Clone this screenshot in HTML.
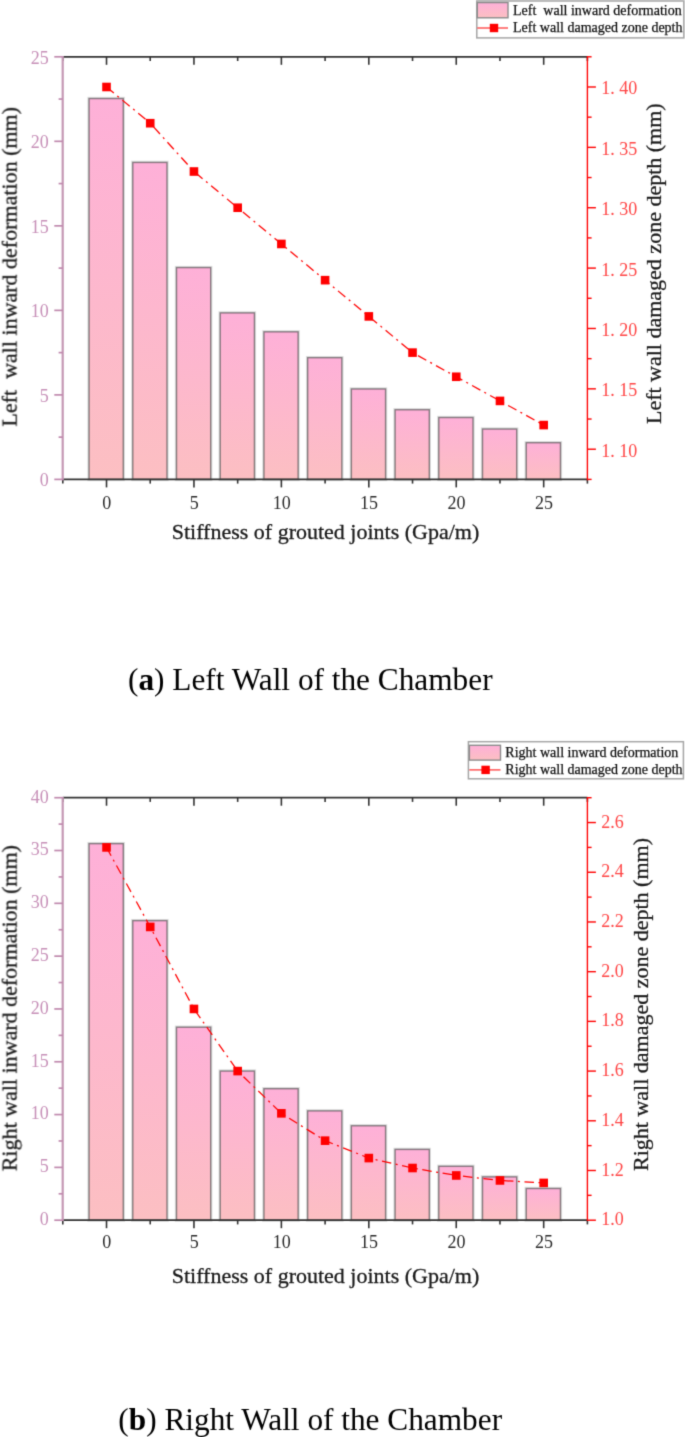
<!DOCTYPE html>
<html><head><meta charset="utf-8"><title>Chart</title>
<style>
html,body{margin:0;padding:0;background:#fff;}
body{width:685px;height:1437px;overflow:hidden;}
svg{display:block;font-family:'Liberation Serif', serif;}
</style></head><body>
<svg width="685" height="1437" viewBox="0 0 685 1437">
<defs>
<linearGradient id="bg" x1="0" y1="0" x2="0" y2="1">
<stop offset="0" stop-color="#feb0d8"/>
<stop offset="1" stop-color="#fcbfc2"/>
</linearGradient>
<filter id="soft" filterUnits="userSpaceOnUse" x="0" y="0" width="685" height="1437" color-interpolation-filters="sRGB">
<feConvolveMatrix order="3" kernelMatrix="0.01917 0.10012 0.01917 0.10012 0.52283 0.10012 0.01917 0.10012 0.01917" divisor="1" edgeMode="duplicate"/>
</filter>
</defs>
<g filter="url(#soft)">
<rect width="685" height="1437" fill="#fff"/>
<rect x="89.07" y="98.55" width="34.19" height="380.85" fill="none" stroke="rgba(0,0,0,0.13)" stroke-width="3.4"/>
<rect x="89.07" y="98.55" width="34.19" height="380.85" fill="url(#bg)" stroke="rgba(70,70,70,0.6)" stroke-width="1.4"/>
<rect x="132.79" y="162.45" width="34.19" height="316.95" fill="none" stroke="rgba(0,0,0,0.13)" stroke-width="3.4"/>
<rect x="132.79" y="162.45" width="34.19" height="316.95" fill="url(#bg)" stroke="rgba(70,70,70,0.6)" stroke-width="1.4"/>
<rect x="176.51" y="267.59" width="34.19" height="211.81" fill="none" stroke="rgba(0,0,0,0.13)" stroke-width="3.4"/>
<rect x="176.51" y="267.59" width="34.19" height="211.81" fill="url(#bg)" stroke="rgba(70,70,70,0.6)" stroke-width="1.4"/>
<rect x="220.22" y="312.90" width="34.19" height="166.50" fill="none" stroke="rgba(0,0,0,0.13)" stroke-width="3.4"/>
<rect x="220.22" y="312.90" width="34.19" height="166.50" fill="url(#bg)" stroke="rgba(70,70,70,0.6)" stroke-width="1.4"/>
<rect x="263.94" y="331.83" width="34.19" height="147.57" fill="none" stroke="rgba(0,0,0,0.13)" stroke-width="3.4"/>
<rect x="263.94" y="331.83" width="34.19" height="147.57" fill="url(#bg)" stroke="rgba(70,70,70,0.6)" stroke-width="1.4"/>
<rect x="307.66" y="357.69" width="34.19" height="121.71" fill="none" stroke="rgba(0,0,0,0.13)" stroke-width="3.4"/>
<rect x="307.66" y="357.69" width="34.19" height="121.71" fill="url(#bg)" stroke="rgba(70,70,70,0.6)" stroke-width="1.4"/>
<rect x="351.37" y="388.96" width="34.19" height="90.44" fill="none" stroke="rgba(0,0,0,0.13)" stroke-width="3.4"/>
<rect x="351.37" y="388.96" width="34.19" height="90.44" fill="url(#bg)" stroke="rgba(70,70,70,0.6)" stroke-width="1.4"/>
<rect x="395.09" y="409.76" width="34.19" height="69.64" fill="none" stroke="rgba(0,0,0,0.13)" stroke-width="3.4"/>
<rect x="395.09" y="409.76" width="34.19" height="69.64" fill="url(#bg)" stroke="rgba(70,70,70,0.6)" stroke-width="1.4"/>
<rect x="438.81" y="417.53" width="34.19" height="61.87" fill="none" stroke="rgba(0,0,0,0.13)" stroke-width="3.4"/>
<rect x="438.81" y="417.53" width="34.19" height="61.87" fill="url(#bg)" stroke="rgba(70,70,70,0.6)" stroke-width="1.4"/>
<rect x="482.52" y="429.03" width="34.19" height="50.37" fill="none" stroke="rgba(0,0,0,0.13)" stroke-width="3.4"/>
<rect x="482.52" y="429.03" width="34.19" height="50.37" fill="url(#bg)" stroke="rgba(70,70,70,0.6)" stroke-width="1.4"/>
<rect x="526.24" y="442.72" width="34.19" height="36.68" fill="none" stroke="rgba(0,0,0,0.13)" stroke-width="3.4"/>
<rect x="526.24" y="442.72" width="34.19" height="36.68" fill="url(#bg)" stroke="rgba(70,70,70,0.6)" stroke-width="1.4"/>
<polyline points="106.52,86.99 150.23,123.21 193.95,171.51 237.67,207.73 281.38,243.95 325.10,280.17 368.82,316.40 412.53,352.62 456.25,376.77 499.97,400.92 543.68,425.07" fill="none" stroke="#ff0000" stroke-width="1.25" stroke-dasharray="9.5 4.5 2 4.6"/>
<rect x="102.22" y="82.69" width="8.6" height="8.6" fill="#ff0000"/>
<rect x="145.93" y="118.91" width="8.6" height="8.6" fill="#ff0000"/>
<rect x="189.65" y="167.21" width="8.6" height="8.6" fill="#ff0000"/>
<rect x="233.37" y="203.43" width="8.6" height="8.6" fill="#ff0000"/>
<rect x="277.08" y="239.65" width="8.6" height="8.6" fill="#ff0000"/>
<rect x="320.80" y="275.87" width="8.6" height="8.6" fill="#ff0000"/>
<rect x="364.52" y="312.10" width="8.6" height="8.6" fill="#ff0000"/>
<rect x="408.23" y="348.32" width="8.6" height="8.6" fill="#ff0000"/>
<rect x="451.95" y="372.47" width="8.6" height="8.6" fill="#ff0000"/>
<rect x="495.67" y="396.62" width="8.6" height="8.6" fill="#ff0000"/>
<rect x="539.38" y="420.77" width="8.6" height="8.6" fill="#ff0000"/>
<line x1="62.80" y1="479.40" x2="587.40" y2="479.40" stroke="#333333" stroke-width="1.7"/>
<line x1="62.80" y1="56.80" x2="587.40" y2="56.80" stroke="#333333" stroke-width="1.7"/>
<line x1="62.80" y1="479.40" x2="62.80" y2="483.60" stroke="#333333" stroke-width="1.6"/>
<line x1="62.80" y1="56.80" x2="62.80" y2="61.00" stroke="#333333" stroke-width="1.6"/>
<line x1="106.52" y1="479.40" x2="106.52" y2="487.40" stroke="#333333" stroke-width="1.6"/>
<line x1="106.52" y1="56.80" x2="106.52" y2="64.80" stroke="#333333" stroke-width="1.6"/>
<text x="106.82" y="509.20" font-size="18" text-anchor="middle" fill="#2a2a2a">0</text>
<line x1="150.23" y1="479.40" x2="150.23" y2="483.60" stroke="#333333" stroke-width="1.6"/>
<line x1="150.23" y1="56.80" x2="150.23" y2="61.00" stroke="#333333" stroke-width="1.6"/>
<line x1="193.95" y1="479.40" x2="193.95" y2="487.40" stroke="#333333" stroke-width="1.6"/>
<line x1="193.95" y1="56.80" x2="193.95" y2="64.80" stroke="#333333" stroke-width="1.6"/>
<text x="194.25" y="509.20" font-size="18" text-anchor="middle" fill="#2a2a2a">5</text>
<line x1="237.67" y1="479.40" x2="237.67" y2="483.60" stroke="#333333" stroke-width="1.6"/>
<line x1="237.67" y1="56.80" x2="237.67" y2="61.00" stroke="#333333" stroke-width="1.6"/>
<line x1="281.38" y1="479.40" x2="281.38" y2="487.40" stroke="#333333" stroke-width="1.6"/>
<line x1="281.38" y1="56.80" x2="281.38" y2="64.80" stroke="#333333" stroke-width="1.6"/>
<text x="281.68" y="509.20" font-size="18" text-anchor="middle" fill="#2a2a2a">10</text>
<line x1="325.10" y1="479.40" x2="325.10" y2="483.60" stroke="#333333" stroke-width="1.6"/>
<line x1="325.10" y1="56.80" x2="325.10" y2="61.00" stroke="#333333" stroke-width="1.6"/>
<line x1="368.82" y1="479.40" x2="368.82" y2="487.40" stroke="#333333" stroke-width="1.6"/>
<line x1="368.82" y1="56.80" x2="368.82" y2="64.80" stroke="#333333" stroke-width="1.6"/>
<text x="369.12" y="509.20" font-size="18" text-anchor="middle" fill="#2a2a2a">15</text>
<line x1="412.53" y1="479.40" x2="412.53" y2="483.60" stroke="#333333" stroke-width="1.6"/>
<line x1="412.53" y1="56.80" x2="412.53" y2="61.00" stroke="#333333" stroke-width="1.6"/>
<line x1="456.25" y1="479.40" x2="456.25" y2="487.40" stroke="#333333" stroke-width="1.6"/>
<line x1="456.25" y1="56.80" x2="456.25" y2="64.80" stroke="#333333" stroke-width="1.6"/>
<text x="456.55" y="509.20" font-size="18" text-anchor="middle" fill="#2a2a2a">20</text>
<line x1="499.97" y1="479.40" x2="499.97" y2="483.60" stroke="#333333" stroke-width="1.6"/>
<line x1="499.97" y1="56.80" x2="499.97" y2="61.00" stroke="#333333" stroke-width="1.6"/>
<line x1="543.68" y1="479.40" x2="543.68" y2="487.40" stroke="#333333" stroke-width="1.6"/>
<line x1="543.68" y1="56.80" x2="543.68" y2="64.80" stroke="#333333" stroke-width="1.6"/>
<text x="543.98" y="509.20" font-size="18" text-anchor="middle" fill="#2a2a2a">25</text>
<line x1="587.40" y1="479.40" x2="587.40" y2="483.60" stroke="#333333" stroke-width="1.6"/>
<line x1="587.40" y1="56.80" x2="587.40" y2="61.00" stroke="#333333" stroke-width="1.6"/>
<line x1="62.70" y1="56.00" x2="62.70" y2="480.20" stroke="#c598b4" stroke-width="2.2"/>
<line x1="54.30" y1="479.40" x2="62.80" y2="479.40" stroke="#c08aae" stroke-width="1.7"/>
<text x="48.70" y="486.10" font-size="18" text-anchor="end" fill="#c790b8">0</text>
<line x1="58.60" y1="437.14" x2="62.80" y2="437.14" stroke="#c08aae" stroke-width="1.7"/>
<line x1="54.30" y1="394.88" x2="62.80" y2="394.88" stroke="#c08aae" stroke-width="1.7"/>
<text x="48.70" y="401.58" font-size="18" text-anchor="end" fill="#c790b8">5</text>
<line x1="58.60" y1="352.62" x2="62.80" y2="352.62" stroke="#c08aae" stroke-width="1.7"/>
<line x1="54.30" y1="310.36" x2="62.80" y2="310.36" stroke="#c08aae" stroke-width="1.7"/>
<text x="48.70" y="317.06" font-size="18" text-anchor="end" fill="#c790b8">10</text>
<line x1="58.60" y1="268.10" x2="62.80" y2="268.10" stroke="#c08aae" stroke-width="1.7"/>
<line x1="54.30" y1="225.84" x2="62.80" y2="225.84" stroke="#c08aae" stroke-width="1.7"/>
<text x="48.70" y="232.54" font-size="18" text-anchor="end" fill="#c790b8">15</text>
<line x1="58.60" y1="183.58" x2="62.80" y2="183.58" stroke="#c08aae" stroke-width="1.7"/>
<line x1="54.30" y1="141.32" x2="62.80" y2="141.32" stroke="#c08aae" stroke-width="1.7"/>
<text x="48.70" y="148.02" font-size="18" text-anchor="end" fill="#c790b8">20</text>
<line x1="58.60" y1="99.06" x2="62.80" y2="99.06" stroke="#c08aae" stroke-width="1.7"/>
<line x1="54.30" y1="56.80" x2="62.80" y2="56.80" stroke="#c08aae" stroke-width="1.7"/>
<text x="48.70" y="63.50" font-size="18" text-anchor="end" fill="#c790b8">25</text>
<line x1="587.40" y1="56.00" x2="587.40" y2="480.20" stroke="#ff0000" stroke-width="1.35"/>
<line x1="587.40" y1="479.40" x2="591.60" y2="479.40" stroke="#ff0000" stroke-width="1.4"/>
<line x1="587.40" y1="449.21" x2="595.90" y2="449.21" stroke="#ff0000" stroke-width="1.4"/>
<text x="601.20" y="456.61" font-size="18" fill="#ff4646" xml:space="preserve">1. 10</text>
<line x1="587.40" y1="419.03" x2="591.60" y2="419.03" stroke="#ff0000" stroke-width="1.4"/>
<line x1="587.40" y1="388.84" x2="595.90" y2="388.84" stroke="#ff0000" stroke-width="1.4"/>
<text x="601.20" y="396.24" font-size="18" fill="#ff4646" xml:space="preserve">1. 15</text>
<line x1="587.40" y1="358.66" x2="591.60" y2="358.66" stroke="#ff0000" stroke-width="1.4"/>
<line x1="587.40" y1="328.47" x2="595.90" y2="328.47" stroke="#ff0000" stroke-width="1.4"/>
<text x="601.20" y="335.87" font-size="18" fill="#ff4646" xml:space="preserve">1. 20</text>
<line x1="587.40" y1="298.29" x2="591.60" y2="298.29" stroke="#ff0000" stroke-width="1.4"/>
<line x1="587.40" y1="268.10" x2="595.90" y2="268.10" stroke="#ff0000" stroke-width="1.4"/>
<text x="601.20" y="275.50" font-size="18" fill="#ff4646" xml:space="preserve">1. 25</text>
<line x1="587.40" y1="237.91" x2="591.60" y2="237.91" stroke="#ff0000" stroke-width="1.4"/>
<line x1="587.40" y1="207.73" x2="595.90" y2="207.73" stroke="#ff0000" stroke-width="1.4"/>
<text x="601.20" y="215.13" font-size="18" fill="#ff4646" xml:space="preserve">1. 30</text>
<line x1="587.40" y1="177.54" x2="591.60" y2="177.54" stroke="#ff0000" stroke-width="1.4"/>
<line x1="587.40" y1="147.36" x2="595.90" y2="147.36" stroke="#ff0000" stroke-width="1.4"/>
<text x="601.20" y="154.76" font-size="18" fill="#ff4646" xml:space="preserve">1. 35</text>
<line x1="587.40" y1="117.17" x2="591.60" y2="117.17" stroke="#ff0000" stroke-width="1.4"/>
<line x1="587.40" y1="86.99" x2="595.90" y2="86.99" stroke="#ff0000" stroke-width="1.4"/>
<text x="601.20" y="94.39" font-size="18" fill="#ff4646" xml:space="preserve">1. 40</text>
<line x1="587.40" y1="56.80" x2="591.60" y2="56.80" stroke="#ff0000" stroke-width="1.4"/>
<text transform="translate(16.60,266.80) rotate(-90)" font-size="22" text-anchor="middle" fill="#1a1a1a" stroke="#1a1a1a" stroke-width="0.3" xml:space="preserve">Left  wall inward deformation (mm)</text>
<text transform="translate(661.40,263.70) rotate(-90)" font-size="22" text-anchor="middle" fill="#1a1a1a" stroke="#1a1a1a" stroke-width="0.3">Left wall damaged zone depth (mm)</text>
<text x="325.50" y="538.80" font-size="22" text-anchor="middle" fill="#1a1a1a" stroke="#1a1a1a" stroke-width="0.3">Stiffness of grouted joints (Gpa/m)</text>
<rect x="476.8" y="1.0" width="206.99999999999994" height="36.9" fill="#fff" stroke="#a6a6a6" stroke-width="1.5"/>
<rect x="477.3" y="2.6" width="30.69999999999999" height="15.200000000000001" fill="url(#bg)" stroke="#8c8c8c" stroke-width="1.4"/>
<line x1="477.3" y1="28.0" x2="508.0" y2="28.0" stroke="#ff3a3a" stroke-width="1.3"/>
<rect x="489.8" y="23.8" width="8.4" height="8.4" fill="#ff0000"/>
<text x="513.0" y="14.9" font-size="14" fill="#111" stroke="#111" stroke-width="0.25" xml:space="preserve">Left  wall inward deformation</text>
<text x="513.0" y="32.0" font-size="14" fill="#111" stroke="#111" stroke-width="0.25" xml:space="preserve">Left wall damaged zone depth</text>
<rect x="89.07" y="843.65" width="34.19" height="376.55" fill="none" stroke="rgba(0,0,0,0.13)" stroke-width="3.4"/>
<rect x="89.07" y="843.65" width="34.19" height="376.55" fill="url(#bg)" stroke="rgba(70,70,70,0.6)" stroke-width="1.4"/>
<rect x="132.79" y="920.65" width="34.19" height="299.55" fill="none" stroke="rgba(0,0,0,0.13)" stroke-width="3.4"/>
<rect x="132.79" y="920.65" width="34.19" height="299.55" fill="url(#bg)" stroke="rgba(70,70,70,0.6)" stroke-width="1.4"/>
<rect x="176.51" y="1027.22" width="34.19" height="192.98" fill="none" stroke="rgba(0,0,0,0.13)" stroke-width="3.4"/>
<rect x="176.51" y="1027.22" width="34.19" height="192.98" fill="url(#bg)" stroke="rgba(70,70,70,0.6)" stroke-width="1.4"/>
<rect x="220.22" y="1071.06" width="34.19" height="149.14" fill="none" stroke="rgba(0,0,0,0.13)" stroke-width="3.4"/>
<rect x="220.22" y="1071.06" width="34.19" height="149.14" fill="url(#bg)" stroke="rgba(70,70,70,0.6)" stroke-width="1.4"/>
<rect x="263.94" y="1088.70" width="34.19" height="131.50" fill="none" stroke="rgba(0,0,0,0.13)" stroke-width="3.4"/>
<rect x="263.94" y="1088.70" width="34.19" height="131.50" fill="url(#bg)" stroke="rgba(70,70,70,0.6)" stroke-width="1.4"/>
<rect x="307.66" y="1110.88" width="34.19" height="109.32" fill="none" stroke="rgba(0,0,0,0.13)" stroke-width="3.4"/>
<rect x="307.66" y="1110.88" width="34.19" height="109.32" fill="url(#bg)" stroke="rgba(70,70,70,0.6)" stroke-width="1.4"/>
<rect x="351.37" y="1125.77" width="34.19" height="94.43" fill="none" stroke="rgba(0,0,0,0.13)" stroke-width="3.4"/>
<rect x="351.37" y="1125.77" width="34.19" height="94.43" fill="url(#bg)" stroke="rgba(70,70,70,0.6)" stroke-width="1.4"/>
<rect x="395.09" y="1149.43" width="34.19" height="70.77" fill="none" stroke="rgba(0,0,0,0.13)" stroke-width="3.4"/>
<rect x="395.09" y="1149.43" width="34.19" height="70.77" fill="url(#bg)" stroke="rgba(70,70,70,0.6)" stroke-width="1.4"/>
<rect x="438.81" y="1166.33" width="34.19" height="53.87" fill="none" stroke="rgba(0,0,0,0.13)" stroke-width="3.4"/>
<rect x="438.81" y="1166.33" width="34.19" height="53.87" fill="url(#bg)" stroke="rgba(70,70,70,0.6)" stroke-width="1.4"/>
<rect x="482.52" y="1176.89" width="34.19" height="43.31" fill="none" stroke="rgba(0,0,0,0.13)" stroke-width="3.4"/>
<rect x="482.52" y="1176.89" width="34.19" height="43.31" fill="url(#bg)" stroke="rgba(70,70,70,0.6)" stroke-width="1.4"/>
<rect x="526.24" y="1188.51" width="34.19" height="31.69" fill="none" stroke="rgba(0,0,0,0.13)" stroke-width="3.4"/>
<rect x="526.24" y="1188.51" width="34.19" height="31.69" fill="url(#bg)" stroke="rgba(70,70,70,0.6)" stroke-width="1.4"/>
<polyline points="106.52,847.41 150.23,926.94 193.95,1008.95 237.67,1071.08 281.38,1113.33 325.10,1140.67 368.82,1158.07 412.53,1168.01 456.25,1175.46 499.97,1180.44 543.68,1182.92" fill="none" stroke="#ff0000" stroke-width="1.25" stroke-dasharray="9.5 4.5 2 4.6"/>
<rect x="102.22" y="843.11" width="8.6" height="8.6" fill="#ff0000"/>
<rect x="145.93" y="922.64" width="8.6" height="8.6" fill="#ff0000"/>
<rect x="189.65" y="1004.65" width="8.6" height="8.6" fill="#ff0000"/>
<rect x="233.37" y="1066.78" width="8.6" height="8.6" fill="#ff0000"/>
<rect x="277.08" y="1109.03" width="8.6" height="8.6" fill="#ff0000"/>
<rect x="320.80" y="1136.37" width="8.6" height="8.6" fill="#ff0000"/>
<rect x="364.52" y="1153.77" width="8.6" height="8.6" fill="#ff0000"/>
<rect x="408.23" y="1163.71" width="8.6" height="8.6" fill="#ff0000"/>
<rect x="451.95" y="1171.16" width="8.6" height="8.6" fill="#ff0000"/>
<rect x="495.67" y="1176.14" width="8.6" height="8.6" fill="#ff0000"/>
<rect x="539.38" y="1178.62" width="8.6" height="8.6" fill="#ff0000"/>
<line x1="62.80" y1="1220.20" x2="587.40" y2="1220.20" stroke="#333333" stroke-width="1.7"/>
<line x1="62.80" y1="797.70" x2="587.40" y2="797.70" stroke="#333333" stroke-width="1.7"/>
<line x1="62.80" y1="1220.20" x2="62.80" y2="1224.40" stroke="#333333" stroke-width="1.6"/>
<line x1="62.80" y1="797.70" x2="62.80" y2="801.90" stroke="#333333" stroke-width="1.6"/>
<line x1="106.52" y1="1220.20" x2="106.52" y2="1228.20" stroke="#333333" stroke-width="1.6"/>
<line x1="106.52" y1="797.70" x2="106.52" y2="805.70" stroke="#333333" stroke-width="1.6"/>
<text x="106.82" y="1248.20" font-size="18" text-anchor="middle" fill="#2a2a2a">0</text>
<line x1="150.23" y1="1220.20" x2="150.23" y2="1224.40" stroke="#333333" stroke-width="1.6"/>
<line x1="150.23" y1="797.70" x2="150.23" y2="801.90" stroke="#333333" stroke-width="1.6"/>
<line x1="193.95" y1="1220.20" x2="193.95" y2="1228.20" stroke="#333333" stroke-width="1.6"/>
<line x1="193.95" y1="797.70" x2="193.95" y2="805.70" stroke="#333333" stroke-width="1.6"/>
<text x="194.25" y="1248.20" font-size="18" text-anchor="middle" fill="#2a2a2a">5</text>
<line x1="237.67" y1="1220.20" x2="237.67" y2="1224.40" stroke="#333333" stroke-width="1.6"/>
<line x1="237.67" y1="797.70" x2="237.67" y2="801.90" stroke="#333333" stroke-width="1.6"/>
<line x1="281.38" y1="1220.20" x2="281.38" y2="1228.20" stroke="#333333" stroke-width="1.6"/>
<line x1="281.38" y1="797.70" x2="281.38" y2="805.70" stroke="#333333" stroke-width="1.6"/>
<text x="281.68" y="1248.20" font-size="18" text-anchor="middle" fill="#2a2a2a">10</text>
<line x1="325.10" y1="1220.20" x2="325.10" y2="1224.40" stroke="#333333" stroke-width="1.6"/>
<line x1="325.10" y1="797.70" x2="325.10" y2="801.90" stroke="#333333" stroke-width="1.6"/>
<line x1="368.82" y1="1220.20" x2="368.82" y2="1228.20" stroke="#333333" stroke-width="1.6"/>
<line x1="368.82" y1="797.70" x2="368.82" y2="805.70" stroke="#333333" stroke-width="1.6"/>
<text x="369.12" y="1248.20" font-size="18" text-anchor="middle" fill="#2a2a2a">15</text>
<line x1="412.53" y1="1220.20" x2="412.53" y2="1224.40" stroke="#333333" stroke-width="1.6"/>
<line x1="412.53" y1="797.70" x2="412.53" y2="801.90" stroke="#333333" stroke-width="1.6"/>
<line x1="456.25" y1="1220.20" x2="456.25" y2="1228.20" stroke="#333333" stroke-width="1.6"/>
<line x1="456.25" y1="797.70" x2="456.25" y2="805.70" stroke="#333333" stroke-width="1.6"/>
<text x="456.55" y="1248.20" font-size="18" text-anchor="middle" fill="#2a2a2a">20</text>
<line x1="499.97" y1="1220.20" x2="499.97" y2="1224.40" stroke="#333333" stroke-width="1.6"/>
<line x1="499.97" y1="797.70" x2="499.97" y2="801.90" stroke="#333333" stroke-width="1.6"/>
<line x1="543.68" y1="1220.20" x2="543.68" y2="1228.20" stroke="#333333" stroke-width="1.6"/>
<line x1="543.68" y1="797.70" x2="543.68" y2="805.70" stroke="#333333" stroke-width="1.6"/>
<text x="543.98" y="1248.20" font-size="18" text-anchor="middle" fill="#2a2a2a">25</text>
<line x1="587.40" y1="1220.20" x2="587.40" y2="1224.40" stroke="#333333" stroke-width="1.6"/>
<line x1="587.40" y1="797.70" x2="587.40" y2="801.90" stroke="#333333" stroke-width="1.6"/>
<line x1="62.70" y1="796.90" x2="62.70" y2="1221.00" stroke="#c598b4" stroke-width="2.2"/>
<line x1="54.30" y1="1220.20" x2="62.80" y2="1220.20" stroke="#c08aae" stroke-width="1.7"/>
<text x="48.70" y="1225.10" font-size="18" text-anchor="end" fill="#c790b8">0</text>
<line x1="58.60" y1="1193.79" x2="62.80" y2="1193.79" stroke="#c08aae" stroke-width="1.7"/>
<line x1="54.30" y1="1167.39" x2="62.80" y2="1167.39" stroke="#c08aae" stroke-width="1.7"/>
<text x="48.70" y="1172.29" font-size="18" text-anchor="end" fill="#c790b8">5</text>
<line x1="58.60" y1="1140.98" x2="62.80" y2="1140.98" stroke="#c08aae" stroke-width="1.7"/>
<line x1="54.30" y1="1114.58" x2="62.80" y2="1114.58" stroke="#c08aae" stroke-width="1.7"/>
<text x="48.70" y="1119.48" font-size="18" text-anchor="end" fill="#c790b8">10</text>
<line x1="58.60" y1="1088.17" x2="62.80" y2="1088.17" stroke="#c08aae" stroke-width="1.7"/>
<line x1="54.30" y1="1061.76" x2="62.80" y2="1061.76" stroke="#c08aae" stroke-width="1.7"/>
<text x="48.70" y="1066.66" font-size="18" text-anchor="end" fill="#c790b8">15</text>
<line x1="58.60" y1="1035.36" x2="62.80" y2="1035.36" stroke="#c08aae" stroke-width="1.7"/>
<line x1="54.30" y1="1008.95" x2="62.80" y2="1008.95" stroke="#c08aae" stroke-width="1.7"/>
<text x="48.70" y="1013.85" font-size="18" text-anchor="end" fill="#c790b8">20</text>
<line x1="58.60" y1="982.54" x2="62.80" y2="982.54" stroke="#c08aae" stroke-width="1.7"/>
<line x1="54.30" y1="956.14" x2="62.80" y2="956.14" stroke="#c08aae" stroke-width="1.7"/>
<text x="48.70" y="961.04" font-size="18" text-anchor="end" fill="#c790b8">25</text>
<line x1="58.60" y1="929.73" x2="62.80" y2="929.73" stroke="#c08aae" stroke-width="1.7"/>
<line x1="54.30" y1="903.33" x2="62.80" y2="903.33" stroke="#c08aae" stroke-width="1.7"/>
<text x="48.70" y="908.23" font-size="18" text-anchor="end" fill="#c790b8">30</text>
<line x1="58.60" y1="876.92" x2="62.80" y2="876.92" stroke="#c08aae" stroke-width="1.7"/>
<line x1="54.30" y1="850.51" x2="62.80" y2="850.51" stroke="#c08aae" stroke-width="1.7"/>
<text x="48.70" y="855.41" font-size="18" text-anchor="end" fill="#c790b8">35</text>
<line x1="58.60" y1="824.11" x2="62.80" y2="824.11" stroke="#c08aae" stroke-width="1.7"/>
<line x1="54.30" y1="797.70" x2="62.80" y2="797.70" stroke="#c08aae" stroke-width="1.7"/>
<text x="48.70" y="802.60" font-size="18" text-anchor="end" fill="#c790b8">40</text>
<line x1="587.40" y1="796.90" x2="587.40" y2="1221.00" stroke="#ff0000" stroke-width="1.35"/>
<line x1="587.40" y1="1220.20" x2="595.90" y2="1220.20" stroke="#ff0000" stroke-width="1.4"/>
<text x="601.20" y="1225.30" font-size="18" fill="#ff4646" xml:space="preserve">1.0</text>
<line x1="587.40" y1="1195.35" x2="591.60" y2="1195.35" stroke="#ff0000" stroke-width="1.4"/>
<line x1="587.40" y1="1170.49" x2="595.90" y2="1170.49" stroke="#ff0000" stroke-width="1.4"/>
<text x="601.20" y="1175.59" font-size="18" fill="#ff4646" xml:space="preserve">1.2</text>
<line x1="587.40" y1="1145.64" x2="591.60" y2="1145.64" stroke="#ff0000" stroke-width="1.4"/>
<line x1="587.40" y1="1120.79" x2="595.90" y2="1120.79" stroke="#ff0000" stroke-width="1.4"/>
<text x="601.20" y="1125.89" font-size="18" fill="#ff4646" xml:space="preserve">1.4</text>
<line x1="587.40" y1="1095.94" x2="591.60" y2="1095.94" stroke="#ff0000" stroke-width="1.4"/>
<line x1="587.40" y1="1071.08" x2="595.90" y2="1071.08" stroke="#ff0000" stroke-width="1.4"/>
<text x="601.20" y="1076.18" font-size="18" fill="#ff4646" xml:space="preserve">1.6</text>
<line x1="587.40" y1="1046.23" x2="591.60" y2="1046.23" stroke="#ff0000" stroke-width="1.4"/>
<line x1="587.40" y1="1021.38" x2="595.90" y2="1021.38" stroke="#ff0000" stroke-width="1.4"/>
<text x="601.20" y="1026.48" font-size="18" fill="#ff4646" xml:space="preserve">1.8</text>
<line x1="587.40" y1="996.52" x2="591.60" y2="996.52" stroke="#ff0000" stroke-width="1.4"/>
<line x1="587.40" y1="971.67" x2="595.90" y2="971.67" stroke="#ff0000" stroke-width="1.4"/>
<text x="601.20" y="976.77" font-size="18" fill="#ff4646" xml:space="preserve">2.0</text>
<line x1="587.40" y1="946.82" x2="591.60" y2="946.82" stroke="#ff0000" stroke-width="1.4"/>
<line x1="587.40" y1="921.96" x2="595.90" y2="921.96" stroke="#ff0000" stroke-width="1.4"/>
<text x="601.20" y="927.06" font-size="18" fill="#ff4646" xml:space="preserve">2.2</text>
<line x1="587.40" y1="897.11" x2="591.60" y2="897.11" stroke="#ff0000" stroke-width="1.4"/>
<line x1="587.40" y1="872.26" x2="595.90" y2="872.26" stroke="#ff0000" stroke-width="1.4"/>
<text x="601.20" y="877.36" font-size="18" fill="#ff4646" xml:space="preserve">2.4</text>
<line x1="587.40" y1="847.41" x2="591.60" y2="847.41" stroke="#ff0000" stroke-width="1.4"/>
<line x1="587.40" y1="822.55" x2="595.90" y2="822.55" stroke="#ff0000" stroke-width="1.4"/>
<text x="601.20" y="827.65" font-size="18" fill="#ff4646" xml:space="preserve">2.6</text>
<line x1="587.40" y1="797.70" x2="591.60" y2="797.70" stroke="#ff0000" stroke-width="1.4"/>
<text transform="translate(16.60,1008.20) rotate(-90)" font-size="22" text-anchor="middle" fill="#1a1a1a" stroke="#1a1a1a" stroke-width="0.3" xml:space="preserve">Right wall inward deformation (mm)</text>
<text transform="translate(647.70,1004.50) rotate(-90)" font-size="22" text-anchor="middle" fill="#1a1a1a" stroke="#1a1a1a" stroke-width="0.3">Right wall damaged zone depth (mm)</text>
<text x="325.50" y="1282.80" font-size="22" text-anchor="middle" fill="#1a1a1a" stroke="#1a1a1a" stroke-width="0.3">Stiffness of grouted joints (Gpa/m)</text>
<rect x="468.4" y="741.7" width="215.0" height="37.09999999999991" fill="#fff" stroke="#a6a6a6" stroke-width="1.5"/>
<rect x="469.4" y="745.3" width="31.100000000000023" height="14.800000000000068" fill="url(#bg)" stroke="#8c8c8c" stroke-width="1.4"/>
<line x1="469.3" y1="769.9" x2="500.5" y2="769.9" stroke="#ff3a3a" stroke-width="1.3"/>
<rect x="481.40000000000003" y="765.6999999999999" width="8.4" height="8.4" fill="#ff0000"/>
<text x="505.3" y="757.1" font-size="14" fill="#111" stroke="#111" stroke-width="0.25" xml:space="preserve">Right wall inward deformation</text>
<text x="505.3" y="774.1" font-size="14" fill="#111" stroke="#111" stroke-width="0.25" xml:space="preserve">Right wall damaged zone depth</text>
<text x="310.3" y="689.7" font-size="31.3" text-anchor="middle" fill="#000">(<tspan font-weight="bold">a</tspan>) Left Wall of the Chamber</text>
<text x="310.2" y="1430.3" font-size="31.3" text-anchor="middle" fill="#000">(<tspan font-weight="bold">b</tspan>) Right Wall of the Chamber</text>
</g></svg></body></html>
